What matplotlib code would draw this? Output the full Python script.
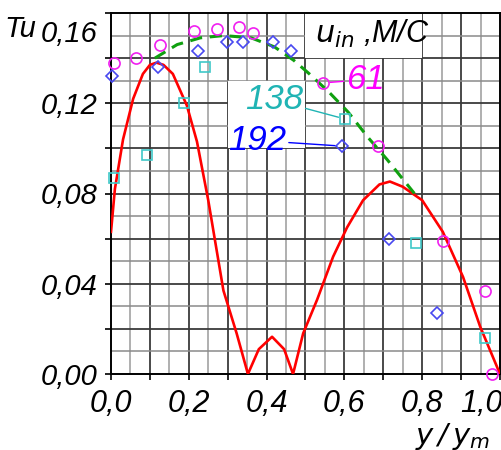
import matplotlib
matplotlib.use("Agg")
import matplotlib.pyplot as plt
import matplotlib.transforms as mtransforms
from matplotlib.patches import Rectangle

# u_in = 61 m/s (circles)
x61 = [0.008, 0.064, 0.126, 0.213, 0.272, 0.329, 0.365, 0.545, 0.686, 0.853, 0.961, 0.979]
tu61 = [0.138, 0.140, 0.146, 0.152, 0.153, 0.154, 0.151, 0.129, 0.101, 0.059, 0.037, 0.000]

# u_in = 138 m/s (squares)
x138 = [0.008, 0.093, 0.188, 0.242, 0.602, 0.784, 0.961]
tu138 = [0.087, 0.097, 0.120, 0.136, 0.113, 0.058, 0.016]

# u_in = 192 m/s (diamonds)
x192 = [0.002, 0.122, 0.223, 0.298, 0.339, 0.416, 0.464, 0.594, 0.715, 0.838]
tu192 = [0.132, 0.136, 0.143, 0.147, 0.147, 0.147, 0.143, 0.101, 0.060, 0.027]

# green dashed envelope
x_env = [0.113, 0.17, 0.23, 0.29, 0.36, 0.42, 0.47, 0.51, 0.56, 0.61, 0.66, 0.71, 0.78]
tu_env = [0.140, 0.146, 0.149, 0.150, 0.149, 0.145, 0.139, 0.133, 0.125, 0.116, 0.105, 0.095, 0.080]

# red curve
x_red = [0.0, 0.01, 0.031, 0.057, 0.082, 0.10, 0.117, 0.135, 0.159, 0.195, 0.221, 0.25,
         0.289, 0.323, 0.352, 0.38, 0.414, 0.445, 0.468, 0.494, 0.53, 0.571, 0.607,
         0.648, 0.69, 0.717, 0.75, 0.80, 0.853, 0.905, 0.949, 1.0]
tu_red = [0.063, 0.082, 0.104, 0.122, 0.133, 0.137, 0.138, 0.137, 0.133, 0.119, 0.103, 0.077,
          0.037, 0.018, 0.0, 0.011, 0.0165, 0.011, 0.0, 0.018, 0.033, 0.052, 0.065,
          0.077, 0.084, 0.0853, 0.083, 0.077, 0.063, 0.043, 0.021, 0.0]

xticks = [0.0, 0.2, 0.4, 0.6, 0.8, 1.0]
xticklabels = ["0,0", "0,2", "0,4", "0,6", "0,8", "1,0"]
yticks = [0.0, 0.04, 0.08, 0.12, 0.16]
yticklabels = ["0,00", "0,04", "0,08", "0,12", "0,16"]

plt.rcParams['font.family'] = ['Liberation Sans Narrow', 'Liberation Sans', 'DejaVu Sans']
plt.rcParams['font.style'] = 'italic'
plt.rcParams['mathtext.fontset'] = 'custom'
plt.rcParams['mathtext.it'] = 'Liberation Sans Narrow:italic'
plt.rcParams['mathtext.rm'] = 'Liberation Sans Narrow:italic'

fig = plt.figure(figsize=(5.02, 4.5), dpi=100)
ax = fig.add_axes([111/502, 76/450, 389/502, 361/450])

ax.set_xlim(0, 1.0)
ax.set_ylim(0, 0.16)

# grid
for i in range(1, 20):
    v = i * 0.05
    major = i % 2 == 0
    ax.axvline(v, color='#3a3a3a' if major else '#9a9a9a', lw=1.3 if major else 1.1, zorder=0.5)
for i in range(1, 16):
    v = i * 0.01
    major = i % 2 == 0
    ax.axhline(v, color='#3a3a3a' if major else '#8a8a8a', lw=1.3 if major else 1.1, zorder=0.5)

# white boxes covering the grid behind labels
ax.add_patch(Rectangle((0.5, 0.14), 0.3, 0.02, facecolor='white', edgecolor='none', zorder=0.8))
ax.add_patch(Rectangle((0.3, 0.10), 0.2, 0.03, facecolor='white', edgecolor='none', zorder=0.8))

ax.plot(x_red, tu_red, color='#ff0000', lw=1.9, zorder=3)
ax.plot(x_env, tu_env, color='#10a010', lw=2.2, ls=(0, (4, 2.5)), zorder=3)

ax.plot(x61, tu61, 'o', ms=8, mfc='none', mec='#f020f0', mew=1.2, zorder=4, clip_on=False)
ax.plot(x138, tu138, 's', ms=7, mfc='none', mec='#40c8c8', mew=1.2, zorder=4, clip_on=False)
ax.plot(x192, tu192, 'D', ms=6.5, mfc='none', mec='#4848f0', mew=1.2, zorder=4, clip_on=False)

# labels with leader lines
ax.text(0.525, 0.1505, r"$u_{in}$ ,М/С", fontsize=22, ha='left', va='center', color='black')
ax.annotate("61", xy=(0.545, 0.129), xytext=(0.605, 0.1305), fontsize=25, color='#ff00ff',
            ha='left', va='center',
            arrowprops=dict(arrowstyle='-', color='#ff00ff', lw=1, shrinkA=0, shrinkB=5))
ax.annotate("138", xy=(0.602, 0.113), xytext=(0.493, 0.1215), fontsize=25, color='#20b4b4',
            ha='right', va='center',
            arrowprops=dict(arrowstyle='-', color='#20b4b4', lw=1, shrinkA=0, shrinkB=5))
ax.annotate("192", xy=(0.594, 0.101), xytext=(0.45, 0.1035), fontsize=25, color='#0000ff',
            ha='right', va='center',
            arrowprops=dict(arrowstyle='-', color='#0000ff', lw=1, shrinkA=0, shrinkB=5))

# ticks
ax.set_xticks(xticks)
ax.set_xticklabels(xticklabels, fontsize=22)
ax.set_xticks([0.1, 0.3, 0.5, 0.7, 0.9], minor=True)
ax.set_yticks(yticks)
ax.set_yticklabels(yticklabels, fontsize=21)
ax.set_yticks([0.02, 0.06, 0.10, 0.14], minor=True)
ax.tick_params(which='both', direction='out', length=4.5, width=1.2, color='black')
ax.tick_params(axis='x', pad=6)
ax.tick_params(axis='y', pad=5)

labs = ax.get_yticklabels()
labs[-1].set_transform(labs[-1].get_transform() + mtransforms.ScaledTranslation(0, -18/100, fig.dpi_scale_trans))
labs = ax.get_xticklabels()
labs[-1].set_transform(labs[-1].get_transform() + mtransforms.ScaledTranslation(-19/100, 0, fig.dpi_scale_trans))

for s in ax.spines.values():
    s.set_color('black')
    s.set_linewidth(1.4)

fig.text(4/502, 1 - 29/450, "Tu", fontsize=21, ha='left', va='center')
fig.text(490/502, 1 - 436/450, r"$y\,/\,y_m$", fontsize=21, ha='right', va='center')

fig.savefig("out.png", dpi=100, facecolor='white')
